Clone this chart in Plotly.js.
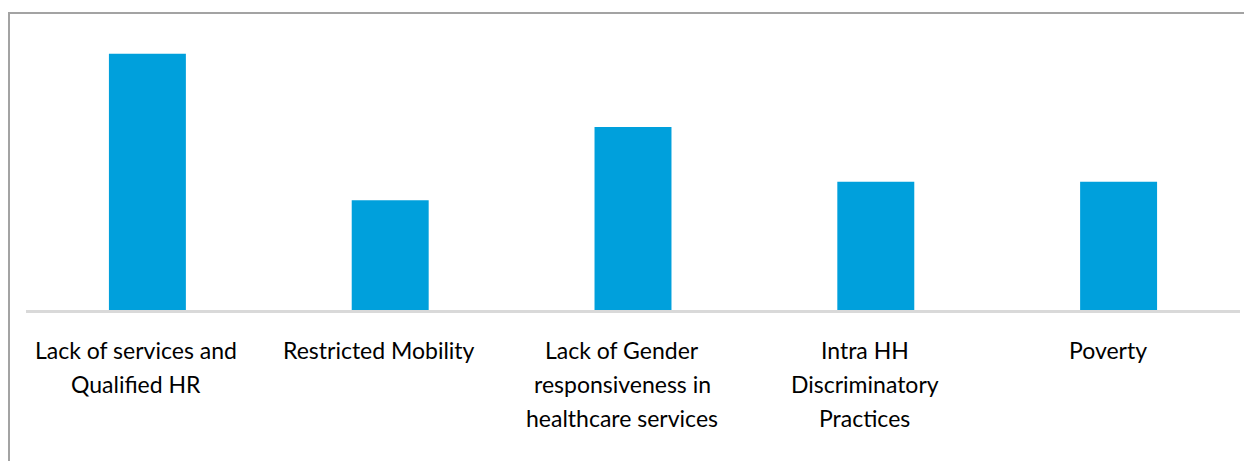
<!DOCTYPE html>
<html>
<head>
<meta charset="utf-8">
<script src="https://cdn.plot.ly/plotly-3.0.1.min.js"></script>
<style>
  html, body { margin: 0; padding: 0; background: #fff; overflow: hidden; }
  #chart { width: 1244px; height: 461px; }
  #frame { position: absolute; left: 8px; top: 12px; width: 1300px; height: 600px;
           border: 2px solid #a3a3a3; pointer-events: none; box-sizing: border-box; }
</style>
</head>
<body>
<div id="chart"></div>
<div id="frame"></div>
<script>
const categories = [
  "Lack of services and Qualified HR",
  "Restricted Mobility",
  "Lack of Gender responsiveness in healthcare services",
  "Intra HH Discriminatory Practices",
  "Poverty"
];
const labelLines = [
  ["Lack of services and", "Qualified HR"],
  ["Restricted Mobility"],
  ["Lack of Gender", "responsiveness in", "healthcare services"],
  ["Intra HH", "Discriminatory", "Practices"],
  ["Poverty"]
];
const values = [14, 6, 10, 7, 7];

const annotations = [];
labelLines.forEach((lines, i) => {
  lines.forEach((t, j) => {
    annotations.push({
      x: categories[i], y: 0, xref: 'x', yref: 'paper',
      text: t, showarrow: false, xanchor: 'center', yanchor: 'middle',
      xshift: -11,
      yshift: -40 - 34 * j,
      font: { family: 'Lato, "Open Sans", sans-serif', size: 23, color: '#000' }
    });
  });
});

Plotly.newPlot('chart', [{
  type: 'bar',
  x: categories,
  y: values,
  marker: { color: '#00a0dc' },
  hoverinfo: 'none'
}], {
  width: 1244, height: 461,
  margin: { l: 26, r: 4, t: 17, b: 151 },
  paper_bgcolor: 'rgba(0,0,0,0)',
  plot_bgcolor: 'rgba(0,0,0,0)',
  bargap: 0.683,
  showlegend: false,
  xaxis: { showticklabels: false, ticks: '', showline: true, linecolor: '#d9d9d9', linewidth: 3, showgrid: false, zeroline: false },
  yaxis: { range: [0, 16], visible: false, showgrid: false, zeroline: false },
  annotations: annotations
}, { displayModeBar: false, staticPlot: true });
</script>
</body>
</html>
